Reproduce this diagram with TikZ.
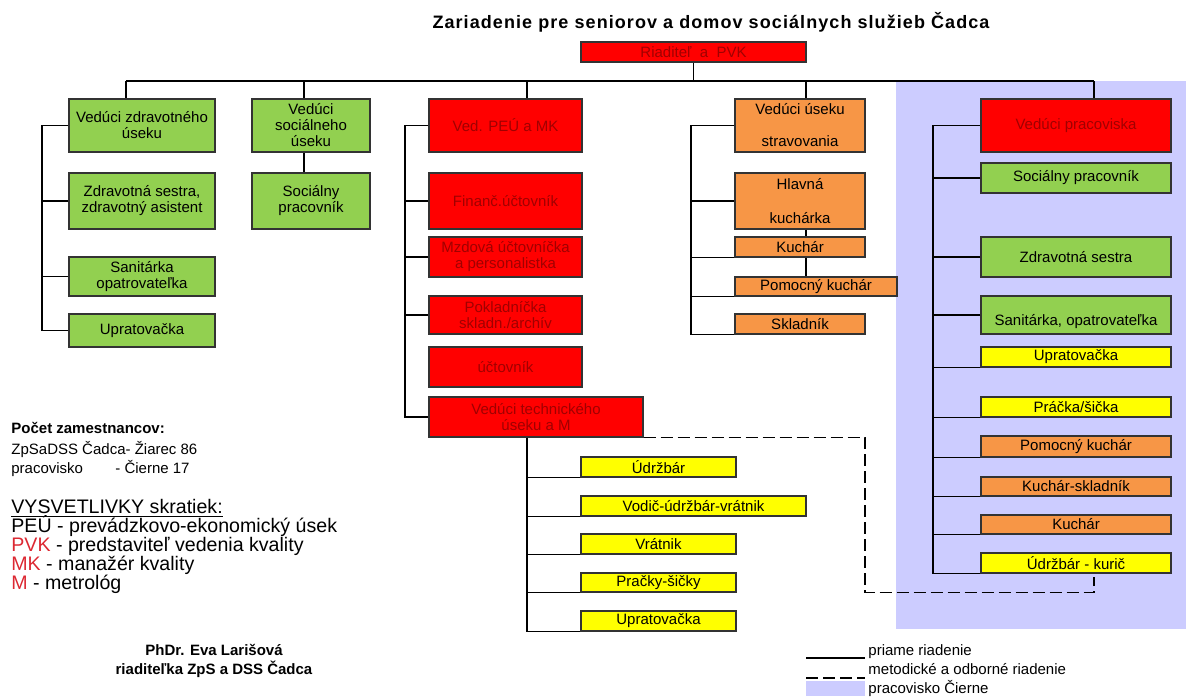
\documentclass[tikz,border=0pt]{standalone}
\usepackage{fontspec}
\setmainfont{Liberation Sans}

\definecolor{boxgreen}{RGB}{146,208,80}
\definecolor{boxred}{RGB}{255,0,0}
\definecolor{boxorange}{RGB}{247,150,70}
\definecolor{boxyellow}{RGB}{255,255,0}
\definecolor{darkred}{RGB}{160,0,0}
\definecolor{lavender}{RGB}{204,204,255}
\definecolor{abbrred}{RGB}{220,40,50}

\begin{document}
\begin{tikzpicture}[x=0.5pt,y=-0.5pt,
  box/.style={draw=black!80,line width=0.6pt,inner sep=1pt,align=center,
    font=\fontsize{7.5}{8}\selectfont},
  sz/.style 2 args={minimum width=#1*0.5pt,minimum height=#2*0.5pt},
  grn/.style={box,fill=boxgreen},
  rd/.style={box,fill=boxred,text=darkred},
  org/.style={box,fill=boxorange},
  ylw/.style={box,fill=boxyellow},
  txt/.style={anchor=base west,inner sep=0pt,font=\fontsize{7.5}{8}\selectfont},
  big/.style={anchor=base west,inner sep=0pt,font=\fontsize{9.8}{10}\selectfont},
  line/.style={line width=0.55pt}]

\useasboundingbox (0,0) rectangle (1192,696);

% pracovisko Cierne
\fill[lavender] (896,81) rectangle (1186,629);

\node[font=\fontsize{9}{10}\selectfont\bfseries\addfontfeature{LetterSpace=6}] (title) at (711,22)
  {Zariadenie pre seniorov a domov sociálnych služieb Čadca};

\node[rd,sz={225}{20}] (boss) at (693.5,52) {Riaditeľ \ a \ PVK};

% zdravotny usek
\node[grn,sz={146}{53}] (zdr1) at (142,125.5) {Vedúci zdravotného\\úseku};
\node[grn,sz={146}{56}] (zdr2) at (142,201) {Zdravotná sestra,\\zdravotný asistent};
\node[grn,sz={146}{39}] (zdr3) at (142,276.5) {Sanitárka\\opatrovateľka};
\node[grn,sz={146}{33}] (zdr4) at (142,330.5) {Upratovačka};

% socialny usek
\node[grn,sz={118}{53}] (soc1) at (311,125.5) {Vedúci\\sociálneho\\úseku};
\node[grn,sz={118}{56}] (soc2) at (311,201) {Sociálny\\pracovník};

% PEU
\node[rd,sz={153}{53}] (peu1) at (505.5,125.5) {Ved. PEÚ a MK};
\node[rd,sz={153}{56}] (peu2) at (505.5,201) {Finanč.účtovník};
\node[rd,sz={153}{40}] (peu3) at (505.5,257) {Mzdová účtovníčka\\a personalistka};
\node[rd,sz={153}{38}] (peu4) at (505.5,315) {Pokladníčka\\skladn./archív};
\node[rd,sz={153}{40}] (peu5) at (505.5,367) {účtovník};
\node[rd,sz={214}{40}] (peu6) at (536,417) {Vedúci technického\\úseku a M};

% technicky usek
\node[ylw,sz={155}{20}] (tech1) at (658.5,467) {Údržbár};
\node[ylw,sz={225}{20}] (tech2) at (693.5,506) {Vodič-údržbár-vrátnik};
\node[ylw,sz={155}{20}] (tech3) at (658.5,544) {Vrátnik};
\node[ylw,sz={155}{19}] (tech4) at (658.5,582.5) {Pračky-šičky};
\node[ylw,sz={155}{20}] (tech5) at (658.5,621) {Upratovačka};

% stravovanie
\node[org,sz={130}{53}] (str1) at (800,125.5) {Vedúci úseku\\[8pt]stravovania};
\node[org,sz={130}{56}] (str2) at (800,201) {Hlavná\\[9pt]kuchárka};
\node[org,sz={130}{20}] (str3) at (800,247) {Kuchár};
\node[org,sz={162}{19}] (str4) at (816,286.5) {Pomocný kuchár};
\node[org,sz={130}{20}] (str5) at (800,324) {Skladník};

% pracovisko
\node[rd,sz={190}{53}] (pr1) at (1076,125.5) {Vedúci pracoviska};
\node[grn,sz={190}{30}] (pr2) at (1076,178) {Sociálny pracovník};
\node[grn,sz={190}{40}] (pr3) at (1076,257) {Zdravotná sestra};
\node[grn,sz={190}{38}] (pr4) at (1076,315) {\mbox{}\\[4.5pt]Sanitárka, opatrovateľka};
\node[ylw,sz={190}{20}] (pr5) at (1076,357) {Upratovačka};
\node[ylw,sz={190}{20}] (pr6) at (1076,407) {Práčka/šička};
\node[org,sz={190}{21}] (pr7) at (1076,446.5) {Pomocný kuchár};
\node[org,sz={190}{19}] (pr8) at (1076,486.5) {Kuchár-skladník};
\node[org,sz={190}{19}] (pr9) at (1076,524.5) {Kuchár};
\node[ylw,sz={190}{20}] (pr10) at (1076,563) {Údržbár - kurič};

% bus
\coordinate (busl) at (126,81);
\coordinate (busr) at (1094,81);
\coordinate (bus2) at (304,81);
\coordinate (bus3) at (527,81);
\coordinate (bus4) at (806,81);
\draw[line] (boss.south) -- (boss.south |- busl);
\draw[line] (busl) -- (busr);
\draw[line] (busl) -- (busl |- zdr1.north);
\draw[line] (bus2) -- (bus2 |- soc1.north);
\draw[line] (bus3) -- (bus3 |- peu1.north);
\draw[line] (bus4) -- (bus4 |- str1.north);
\draw[line] (busr) -- (busr |- pr1.north);

% brackets
\coordinate (br1) at (42,0);
\coordinate (br3) at (405,0);
\coordinate (br4) at (691,0);
\coordinate (br5) at (933,0);
\coordinate (brt) at (527,0);

\draw[line] (zdr1.west) -- (br1 |- zdr1.west) -- (br1 |- zdr4.west) -- (zdr4.west);
\foreach \n in {zdr2,zdr3} \draw[line] (\n.west) -- (br1 |- \n.west);

\draw[line] (bus2 |- soc1.south) -- (bus2 |- soc2.north);

\draw[line] (peu1.west) -- (br3 |- peu1.west) -- (br3 |- peu6.west) -- (peu6.west);
\foreach \n in {peu2,peu3,peu4} \draw[line] (\n.west) -- (br3 |- \n.west);

\draw[line] (brt |- peu6.south) -- (brt |- tech5.south) -- (tech5.south west);
\foreach \n in {tech1,tech2,tech3,tech4} \draw[line] (\n.south west) -- (brt |- \n.south west);

\draw[line] (str1.west) -- (br4 |- str1.west) -- (br4 |- str5.south west) -- (str5.south west);
\draw[line] (str2.west) -- (br4 |- str2.west);
\foreach \n in {str3,str4} \draw[line] (\n.south west) -- (br4 |- \n.south west);
\draw[line] (bus4 |- str2.south) -- (bus4 |- str3.north);
\draw[line] (bus4 |- str3.south) -- (bus4 |- str4.north);

\draw[line] (pr1.west) -- (br5 |- pr1.west) -- (br5 |- pr10.south west) -- (pr10.south west);
\foreach \n in {pr2,pr3,pr4} \draw[line] (\n.west) -- (br5 |- \n.west);
\foreach \n in {pr5,pr6,pr7,pr8,pr9} \draw[line] (\n.south west) -- (br5 |- \n.south west);

% metodicke riadenie
\coordinate (mid) at (865,0);
\coordinate (dend) at (1094,577);
\draw[line,dash pattern=on 6pt off 2.5pt] (peu6.south east) -| (mid |- tech4.south) -| (dend);

% pocet zamestnancov
\node[txt,font=\fontsize{7.5}{8}\selectfont\bfseries] (cnt) at (11,433) {Počet zamestnancov:};
\node[txt] (cnt1) at (11,454) {ZpSaDSS Čadca- Žiarec 86};
\node[txt] (cnt2) at (11,473) {pracovisko};
\node[txt] (cnt3) at (115,473) {- Čierne 17};

% vysvetlivky
\node[big] (abbr) at (11,513) {\underline{VYSVETLIVKY skratiek:}};
\node[big] (abbr1) at (11,532) {PEÚ - prevádzkovo-ekonomický úsek};
\node[big] (abbr2) at (11,551) {\textcolor{abbrred}{PVK} - predstaviteľ vedenia kvality};
\node[big] (abbr3) at (11,570) {\textcolor{abbrred}{MK} - manažér kvality};
\node[big] (abbr4) at (11,589) {\textcolor{abbrred}{M} - metrológ};

\node[font=\fontsize{7.5}{8}\selectfont\bfseries] (sign1) at (214,650) {PhDr. Eva Larišová};
\node[font=\fontsize{7.5}{8}\selectfont\bfseries] (sign2) at (214,669) {riaditeľka ZpS a DSS Čadca};

% legenda
\coordinate (lg1) at (806,658);
\coordinate (lg2) at (806,678);
\draw[line] (lg1) -- ++(59,0);
\draw[line,dash pattern=on 6pt off 2.5pt] (lg2) -- ++(59,0);
\fill[lavender] (806,681) rectangle (865,696);
\node[txt] (leg1) at (868,655) {priame riadenie};
\node[txt] (leg2) at (868,674) {metodické a odborné riadenie};
\node[txt] (leg3) at (868,693) {pracovisko Čierne};
\end{tikzpicture}
\end{document}
